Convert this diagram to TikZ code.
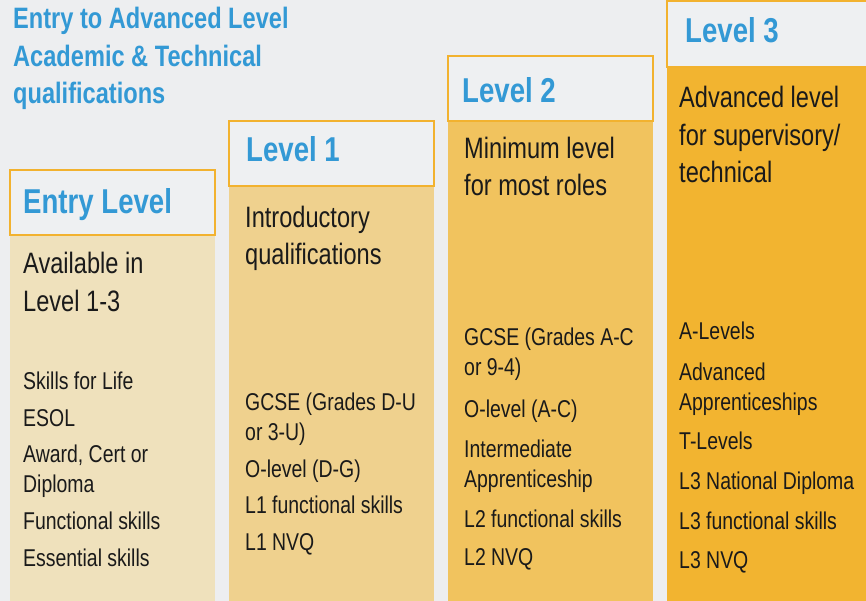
\documentclass[tikz,border=0pt]{standalone}
\usepackage{fontspec}
\setmainfont{Liberation Sans}[FakeStretch=0.8]

\definecolor{bgcol}{HTML}{EDEEF0}
\definecolor{hdfill}{HTML}{EEF0F2}
\definecolor{hdline}{HTML}{F2B22F}
\definecolor{lvblue}{HTML}{3399D5}
\definecolor{txtcol}{HTML}{1A1A1A}
\definecolor{entrycol}{HTML}{EFE1BC}
\definecolor{onecol}{HTML}{EFD18E}
\definecolor{twocol}{HTML}{F1C35E}
\definecolor{threecol}{HTML}{F2B430}

\begin{document}
\begin{tikzpicture}[x=1pt, y=-1pt,
    head/.style={draw=hdline, fill=hdfill, line width=1.3pt},
    lvl/.style={anchor=base west, inner sep=0, text=lvblue, font=\fontsize{34.5}{40}\selectfont\bfseries},
    desc/.style={anchor=base west, inner sep=0, align=left, text=txtcol, font=\fontsize{29.5}{37.5}\selectfont},
    item/.style={anchor=base west, inner sep=0, align=left, text=txtcol, font=\fontsize{24.3}{30}\selectfont}]

    % background
    \fill[bgcol] (0,0) rectangle (866,601);
    \useasboundingbox (0,0) rectangle (866,601);

    % column bodies
    \fill[entrycol] (10,235) rectangle (215,601);
    \fill[onecol] (229,186) rectangle (434,601);
    \fill[twocol] (448,121) rectangle (653,601);
    \fill[threecol] (667,67) rectangle (866,601);

    % header boxes
    \draw[head] (10,170) rectangle (215,235);
    \draw[head] (229,121) rectangle (434,186);
    \draw[head] (448,56) rectangle (653,121);
    \draw[head] (667,1) rectangle (870,67);

    % title (base = last line)
    \node[anchor=base west, inner sep=0, align=left, text=lvblue,
          font=\fontsize{29.5}{37.5}\selectfont\bfseries] (title) at (13,104)
          {Entry to Advanced Level\\Academic \& Technical\\qualifications};

    % level names
    \node[lvl] (entryhead) at (23,214) {Entry Level};
    \node[lvl] (onehead) at (246,162) {Level 1};
    \node[lvl] (twohead) at (462,103) {Level 2};
    \node[lvl] (threehead) at (685,43) {Level 3};

    % descriptions (base = last line)
    \node[desc] (entrydesc) at (23,311) {Available in\\Level 1-3};
    \node[desc] (onedesc) at (245,265) {Introductory\\qualifications};
    \node[desc] (twodesc) at (464,196) {Minimum level\\for most roles};
    \node[desc] (threedesc) at (679,183) {Advanced level\\for supervisory/\\technical};

    % entry level
    \node[item] (entrya) at (23,389) {Skills for Life};
    \node[item] (entryb) at (23,426) {ESOL};
    \node[item] (entryc) at (23,492) {Award, Cert or\\Diploma};
    \node[item] (entryd) at (23,529) {Functional skills};
    \node[item] (entrye) at (23,566) {Essential skills};

    % level 1
    \node[item] (onea) at (245,440) {GCSE (Grades D-U\\or 3-U)};
    \node[item] (oneb) at (245,477) {O-level (D-G)};
    \node[item] (onec) at (245,513) {L1 functional skills};
    \node[item] (oned) at (245,550) {L1 NVQ};

    % level 2
    \node[item] (twoa) at (464,375) {GCSE (Grades A-C\\or 9-4)};
    \node[item] (twob) at (464,417) {O-level (A-C)};
    \node[item] (twoc) at (464,487) {Intermediate\\Apprenticeship};
    \node[item] (twod) at (464,527) {L2 functional skills};
    \node[item] (twoe) at (464,565) {L2 NVQ};

    % level 3
    \node[item] (threea) at (679,339) {A-Levels};
    \node[item] (threeb) at (679,410) {Advanced\\Apprenticeships};
    \node[item] (threec) at (679,449) {T-Levels};
    \node[item] (threed) at (679,489) {L3 National Diploma};
    \node[item] (threee) at (679,529) {L3 functional skills};
    \node[item] (threef) at (679,568) {L3 NVQ};

\end{tikzpicture}
\end{document}
